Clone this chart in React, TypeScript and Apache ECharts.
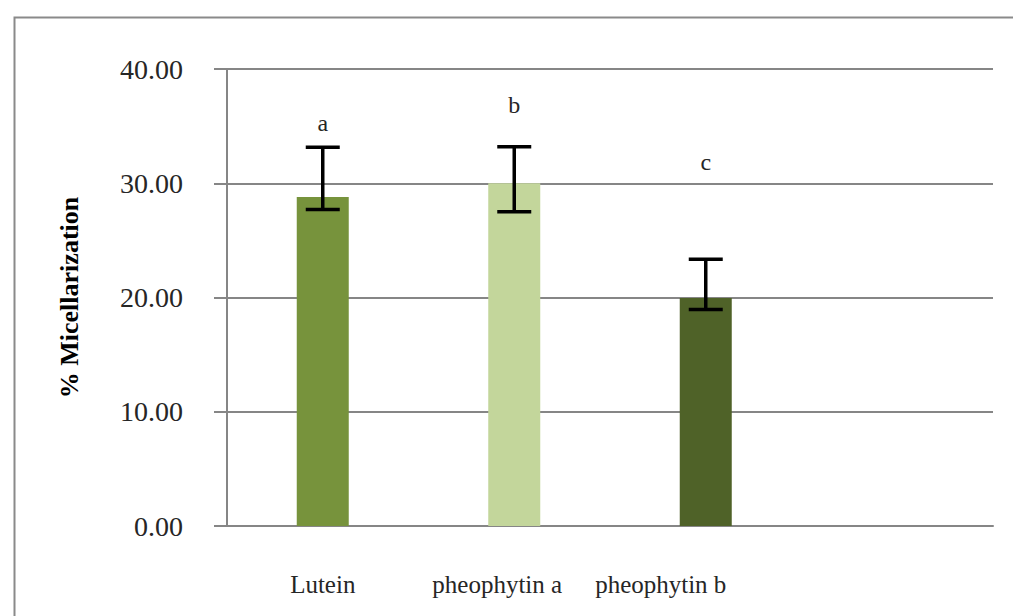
import React, { useEffect, useRef } from "react";
import * as echarts from "echarts";

const categories = ["Lutein", "pheophytin a", "pheophytin b", ""];
const labelShift = [0, 34, 90, 0];
const values = [28.8, 30.0, 19.95];
const errLow = [27.7, 27.5, 18.95];
const errHigh = [33.15, 33.2, 23.35];
const letters = ["a", "b", "c"];
const letterY = [35.3, 36.85, 31.9];
const barColors = ["#77933C", "#C3D69B", "#4F6228"];
const yAxisTitle = "% Micellarization";

const FONT = "'Liberation Serif', 'Times New Roman', serif";

export default function App() {
  const ref = useRef<HTMLDivElement>(null);
  useEffect(() => {
    if (!ref.current) return;
    const chart = echarts.init(ref.current, undefined, { renderer: "svg" });
    const errData = values.map((_, i) => [i, errLow[i], errHigh[i], letterY[i]]);
    chart.setOption({
      animation: false,
      backgroundColor: "#ffffff",
      graphic: [
        {
          type: "rect",
          left: 12,
          top: 15,
          shape: { x: 0, y: 0, width: 1100, height: 700 },
          style: { fill: "none", stroke: "#8a8a8a", lineWidth: 2 },
          z: -1,
        },
      ],
      grid: { left: 227, top: 69, width: 766, height: 457, containLabel: false },
      xAxis: {
        type: "category",
        data: categories.map((c, i) => ({
          value: c,
          textStyle: { padding: [0, labelShift[i], 0, 0] },
        })),
        axisTick: { show: false },
        axisLine: { show: true, lineStyle: { color: "#868686", width: 2 } },
        axisLabel: {
          margin: 46,
          fontFamily: FONT,
          fontSize: 25,
          color: "#262626",
        },
      },
      yAxis: {
        type: "value",
        min: 0,
        max: 40,
        interval: 10,
        name: yAxisTitle,
        nameLocation: "middle",
        nameRotate: 90,
        nameGap: 145,
        nameTextStyle: {
          fontFamily: FONT,
          fontSize: 26,
          fontWeight: "bold",
          color: "#000000",
        },
        axisLine: { show: true, lineStyle: { color: "#868686", width: 2 } },
        axisTick: { show: true, length: 13, lineStyle: { color: "#868686", width: 2 } },
        splitLine: { show: true, lineStyle: { color: "#868686", width: 2 } },
        axisLabel: {
          margin: 44,
          fontFamily: FONT,
          fontSize: 28,
          color: "#262626",
          formatter: (v: number) => v.toFixed(2),
        },
      },
      series: [
        {
          type: "bar",
          barWidth: 52,
          data: values.map((v, i) => ({ value: v, itemStyle: { color: barColors[i] } })),
          z: 2,
        },
        {
          type: "custom",
          data: errData,
          z: 5,
          renderItem: (params: any, api: any) => {
            const i = api.value(0);
            const lo = api.coord([i, api.value(1)]);
            const hi = api.coord([i, api.value(2)]);
            const t = api.coord([i, api.value(3)]);
            const half = 17;
            const style = { stroke: "#000000", lineWidth: 3.5 };
            return {
              type: "group",
              children: [
                { type: "line", shape: { x1: hi[0], y1: hi[1], x2: lo[0], y2: lo[1] }, style },
                { type: "line", shape: { x1: hi[0] - half, y1: hi[1], x2: hi[0] + half, y2: hi[1] }, style },
                { type: "line", shape: { x1: lo[0] - half, y1: lo[1], x2: lo[0] + half, y2: lo[1] }, style },
                {
                  type: "text",
                  x: t[0],
                  y: t[1],
                  style: {
                    text: letters[params.dataIndex],
                    align: "center",
                    verticalAlign: "middle",
                    textAlign: "center",
                    textVerticalAlign: "middle",
                    fontFamily: FONT,
                    fontSize: 24,
                    fill: "#262626",
                  },
                },
              ],
            };
          },
        },
      ],
    });
    return () => chart.dispose();
  }, []);
  return (
    <div
      ref={ref}
      style={{ position: "absolute", left: 0, top: 0, width: 1013, height: 616, background: "#fff" }}
    />
  );
}
